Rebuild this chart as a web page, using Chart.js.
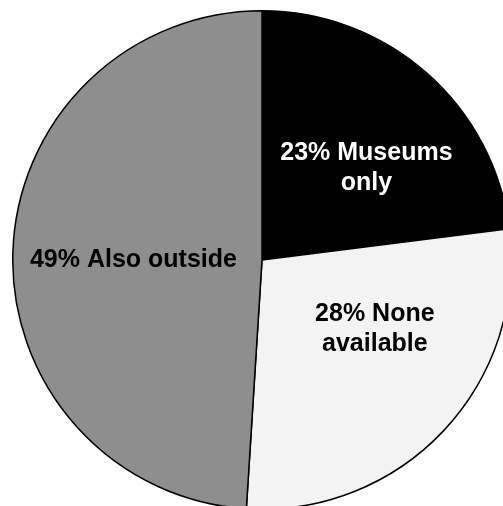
<html><head><meta charset="UTF-8"><title>Where people find it</title><style>
body {
    margin: 0;
    background-color: #ffffff;
    overflow: hidden;
    width: 503px;
    height: 506px;
    position: relative;
}
.chart-container {
    position: absolute;
    left: 12px;
    top: 10px;
    width: 500px;
    height: 500px;
}
</style>
<script src="https://cdn.jsdelivr.net/npm/chart.js"></script>
</head>
<body>
<div class="chart-container">
    <canvas id="pieChart"></canvas>
</div>

<script>
const categorias = ['Museums only', 'None available', 'Also outside'];
const porcentajes = [23, 28, 49];
const etiquetas = [['23% Museums', 'only'], ['28% None', 'available'], ['49% Also outside']];

const colores = ['#000000', '#f3f3f3', '#8e8e8e'];
const coloresTexto = ['#ffffff', '#000000', '#000000'];
// nudge each label away from the slice centroid
const desplazamientos = [[22, 2], [22, -16], [-4, 4]];

const etiquetasPlugin = {
    id: 'etiquetas',
    afterDatasetsDraw(chart) {
        const ctx = chart.ctx;
        const meta = chart.getDatasetMeta(0);
        ctx.save();
        ctx.font = 'bold 25px "Liberation Sans", Arial, sans-serif';
        ctx.textAlign = 'center';
        ctx.textBaseline = 'middle';
        meta.data.forEach((arc, i) => {
            const pos = arc.tooltipPosition();
            const lineas = etiquetas[i];
            const alto = 30;
            const x = pos.x + desplazamientos[i][0];
            const y0 = pos.y + desplazamientos[i][1] - (lineas.length - 1) * alto / 2;
            ctx.fillStyle = coloresTexto[i];
            lineas.forEach((t, j) => ctx.fillText(t, x, y0 + j * alto));
        });
        ctx.restore();
    }
};

const ctx = document.getElementById('pieChart').getContext('2d');
new Chart(ctx, {
    type: 'pie',
    data: {
        labels: categorias,
        datasets: [{
            data: porcentajes,
            backgroundColor: colores,
            borderColor: '#000000',
            borderWidth: 1.5
        }]
    },
    options: {
        responsive: true,
        maintainAspectRatio: false,
        animation: false,
        layout: { padding: 0 },
        plugins: {
            legend: { display: false },
            tooltip: { enabled: false }
        }
    },
    plugins: [etiquetasPlugin]
});
</script>
</body></html>
